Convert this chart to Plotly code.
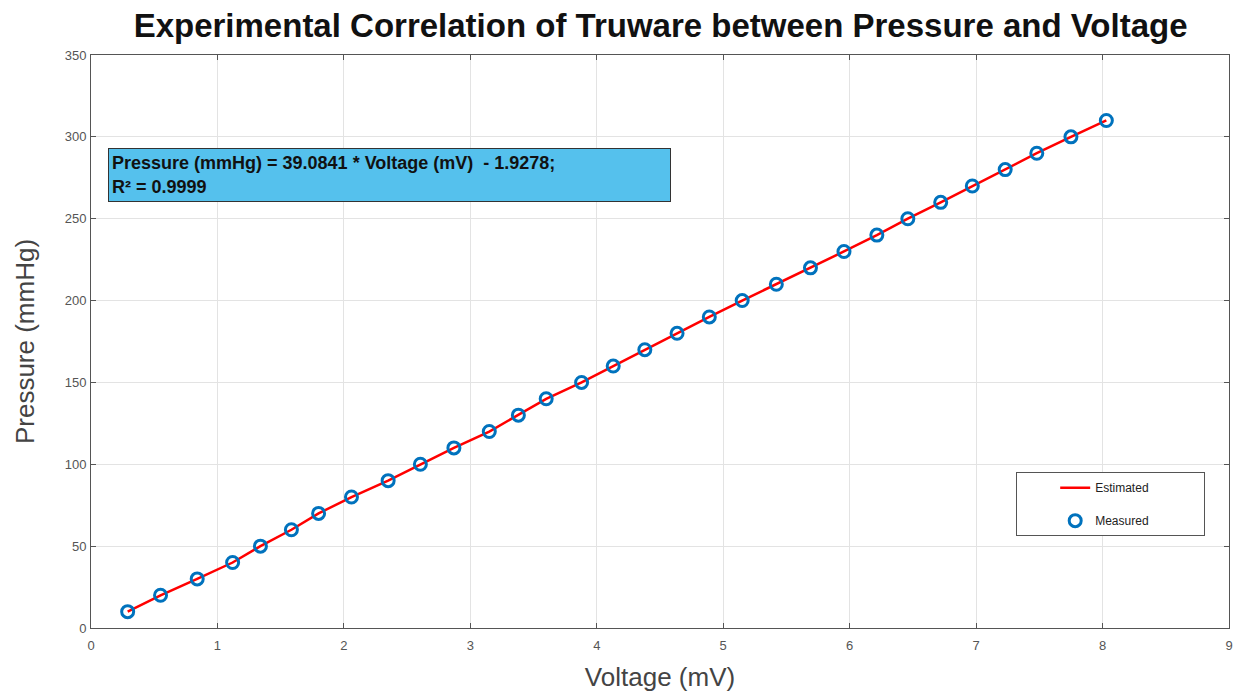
import plotly.graph_objects as go

# Data
voltage_mv = [0.29, 0.55, 0.84, 1.12, 1.34, 1.585, 1.80, 2.06, 2.35, 2.605,
              2.87, 3.15, 3.38, 3.60, 3.88, 4.13, 4.38, 4.635, 4.89, 5.15,
              5.42, 5.69, 5.955, 6.215, 6.46, 6.72, 6.97, 7.23, 7.48, 7.75, 8.03]
pressure_mmhg = [10, 20, 30, 40, 50, 60, 70, 80, 90, 100,
                 110, 120, 130, 140, 150, 160, 170, 180, 190, 200,
                 210, 220, 230, 240, 250, 260, 270, 280, 290, 300, 310]
estimated_mmhg = [10, 20, 30, 40, 50, 60, 70, 80, 90, 100,
                  110, 120, 130, 140, 150, 160, 170, 180, 190, 200,
                  210, 220, 230, 240, 250, 260, 270, 280, 290, 300, 310]
x_ticks = [0, 1, 2, 3, 4, 5, 6, 7, 8, 9]
y_ticks = [0, 50, 100, 150, 200, 250, 300, 350]

pad = "\u00a0" * 15

fig = go.Figure()
fig.add_trace(go.Scatter(
    x=voltage_mv, y=estimated_mmhg, mode="lines", name="Estimated" + pad,
    legendgroup="a",
    line=dict(color="#FF0000", width=2.5)))
fig.add_trace(go.Scatter(
    x=voltage_mv, y=pressure_mmhg, mode="markers", name="Measured" + pad,
    legendgroup="b",
    marker=dict(symbol="circle-open", size=12, color="#0072BD",
                line=dict(width=3, color="#0072BD"))))

axis_common = dict(
    showgrid=True, gridcolor="#E3E3E3", gridwidth=1,
    showline=True, linecolor="#555555", linewidth=1, mirror="ticks",
    ticks="inside", ticklen=5, tickcolor="#555555",
    tickfont=dict(family="Liberation Sans Narrow, Liberation Sans, Arial", size=13, color="#555555"),
    zeroline=False,
)

fig.update_layout(
    width=1243, height=694,
    paper_bgcolor="white", plot_bgcolor="white",
    margin=dict(l=83, r=22, t=47, b=74),
    title=dict(text="<b>Experimental Correlation of Truware between Pressure and Voltage</b>",
               x=0.525, xanchor="center", y=0.975, yanchor="middle",
               font=dict(family="Liberation Sans, Arial", size=33, color="#111111")),
    xaxis=dict(range=[0, 9], tickvals=x_ticks, ticklabelstandoff=5, **axis_common,
               title=dict(text="Voltage (mV)", standoff=16,
                          font=dict(family="Liberation Sans, Arial", size=26, color="#444444"))),
    yaxis=dict(range=[0, 350], tickvals=y_ticks, ticklabelstandoff=1, **axis_common,
               title=dict(text="Pressure (mmHg)", standoff=22,
                          font=dict(family="Liberation Sans, Arial", size=26, color="#444444"))),
    legend=dict(x=0.813, y=0.272, xanchor="left", yanchor="top",
                bgcolor="white", bordercolor="#555555", borderwidth=1,
                font=dict(family="Liberation Sans, Arial", size=12, color="#222222"),
                indentation=38, tracegroupgap=14),
    showlegend=True,
)

fig.add_annotation(
    xref="paper", yref="paper", x=0.015, y=0.838, xanchor="left", yanchor="top",
    text="<b>Pressure (mmHg) = 39.0841 * Voltage (mV)  - 1.9278;<br>R² = 0.9999</b>",
    showarrow=False, align="left", width=555, height=46,
    bgcolor="#55C1ED", bordercolor="#333333", borderwidth=1, borderpad=3,
    font=dict(family="Liberation Sans, Arial", size=18, color="#111111"),
)

fig.write_html("out.html")
